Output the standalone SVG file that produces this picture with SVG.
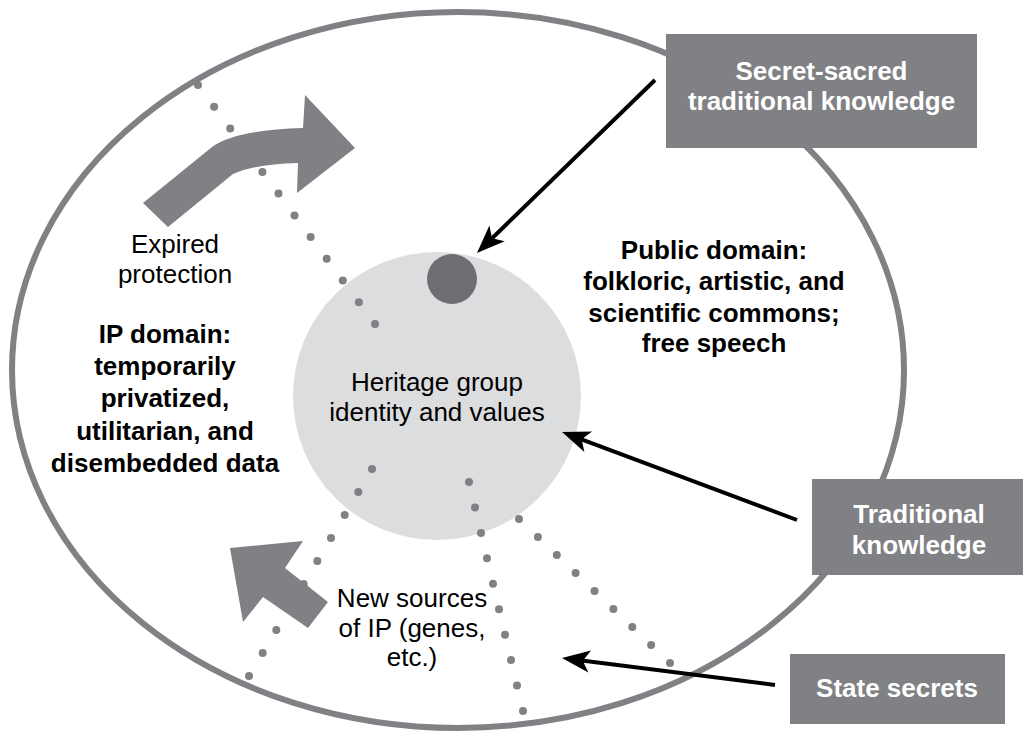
<svg xmlns="http://www.w3.org/2000/svg" width="1023" height="731" viewBox="0 0 1023 731">
<style>
text{font-family:"Liberation Sans",Arial,Helvetica,sans-serif;font-size:26px;text-anchor:middle}
.b{font-weight:bold}
.w{fill:#ffffff;font-weight:bold}
.k{fill:#000000}
.box{fill:#808184}
.dot{fill:#808184}
.garrow{fill:#808184}
.conn{stroke:#000000;stroke-width:4;fill:none;marker-end:url(#ah)}
</style>
<defs>
<marker id="ah" markerUnits="userSpaceOnUse" markerWidth="40" markerHeight="30" refX="22" refY="15" orient="auto">
<path d="M2,4 L30,15 L2,26 L9,15 Z" fill="#000000"/>
</marker>
</defs>
<rect x="0" y="0" width="1023" height="731" fill="#ffffff"/>
<g id="outer-domain">
<ellipse cx="458" cy="370" rx="446" ry="358" fill="none" stroke="#808184" stroke-width="6"/>
</g>
<g id="heritage-group">
<circle cx="437" cy="396" r="144" fill="#dcdddf"/>
<text class="k" x="437" y="391">Heritage group</text>
<text class="k" x="437" y="421">identity and values</text>
</g>
<g id="secret-core">
<circle cx="452" cy="279" r="25" fill="#6d6e71"/>
</g>
<g id="dotted-boundaries">
<circle class="dot" cx="198" cy="85" r="4"/>
<circle class="dot" cx="214.1" cy="106.7" r="4"/>
<circle class="dot" cx="230.2" cy="128.5" r="4"/>
<circle class="dot" cx="246.3" cy="150.2" r="4"/>
<circle class="dot" cx="262.4" cy="171.9" r="4"/>
<circle class="dot" cx="278.5" cy="193.6" r="4"/>
<circle class="dot" cx="294.5" cy="215.4" r="4"/>
<circle class="dot" cx="310.6" cy="237.1" r="4"/>
<circle class="dot" cx="326.7" cy="258.8" r="4"/>
<circle class="dot" cx="342.8" cy="280.6" r="4"/>
<circle class="dot" cx="358.9" cy="302.3" r="4"/>
<circle class="dot" cx="375" cy="324" r="4"/>
<circle class="dot" cx="372" cy="469" r="4"/>
<circle class="dot" cx="358.3" cy="492" r="4"/>
<circle class="dot" cx="344.7" cy="515" r="4"/>
<circle class="dot" cx="331" cy="538" r="4"/>
<circle class="dot" cx="317.3" cy="561" r="4"/>
<circle class="dot" cx="303.7" cy="584" r="4"/>
<circle class="dot" cx="290" cy="607" r="4"/>
<circle class="dot" cx="276.3" cy="630" r="4"/>
<circle class="dot" cx="262.7" cy="653" r="4"/>
<circle class="dot" cx="249" cy="676" r="4"/>
<circle class="dot" cx="469" cy="482" r="4"/>
<circle class="dot" cx="475" cy="507.4" r="4"/>
<circle class="dot" cx="481" cy="532.9" r="4"/>
<circle class="dot" cx="487" cy="558.3" r="4"/>
<circle class="dot" cx="493" cy="583.8" r="4"/>
<circle class="dot" cx="499" cy="609.2" r="4"/>
<circle class="dot" cx="505" cy="634.7" r="4"/>
<circle class="dot" cx="511" cy="660.1" r="4"/>
<circle class="dot" cx="517" cy="685.6" r="4"/>
<circle class="dot" cx="523" cy="711" r="4"/>
<circle class="dot" cx="519" cy="519" r="4"/>
<circle class="dot" cx="537.9" cy="537" r="4"/>
<circle class="dot" cx="556.8" cy="555" r="4"/>
<circle class="dot" cx="575.6" cy="573" r="4"/>
<circle class="dot" cx="594.5" cy="591" r="4"/>
<circle class="dot" cx="613.4" cy="609" r="4"/>
<circle class="dot" cx="632.3" cy="627" r="4"/>
<circle class="dot" cx="651.1" cy="645" r="4"/>
<circle class="dot" cx="670" cy="663" r="4"/>
</g>
<g id="expired-protection">
<path class="garrow" d="M143,203 L212,147 Q235,130 303,128 L305,95 L355,148 L297,193 L298,163 Q255,164 233,174 L168,227 Z"/>
<text class="k" x="175" y="253">Expired</text>
<text class="k" x="175" y="283">protection</text>
</g>
<g id="new-sources">
<path class="garrow" d="M230,548 L303,541 L285,568 L328,602 L308,628 L263,597 L243,622 Z"/>
<text class="k" x="412" y="607">New sources</text>
<text class="k" x="412" y="637">of IP (genes,</text>
<text class="k" x="412" y="666">etc.)</text>
</g>
<g id="ip-domain">
<text class="k b" x="165" y="343">IP domain:</text>
<text class="k b" x="165" y="375">temporarily</text>
<text class="k b" x="165" y="407">privatized,</text>
<text class="k b" x="165" y="440">utilitarian, and</text>
<text class="k b" x="165" y="472">disembedded data</text>
</g>
<g id="public-domain">
<text class="k b" x="714" y="259">Public domain:</text>
<text class="k b" x="714" y="290">folkloric, artistic, and</text>
<text class="k b" x="714" y="322">scientific commons;</text>
<text class="k b" x="714" y="352">free speech</text>
</g>
<g id="secret-sacred">
<rect class="box" x="666" y="34" width="311" height="114"/>
<text class="w" x="821.5" y="80">Secret-sacred</text>
<text class="w" x="821.5" y="110">traditional knowledge</text>
</g>
<g id="traditional-knowledge">
<rect class="box" x="812" y="479" width="215" height="96"/>
<text class="w" x="919" y="523">Traditional</text>
<text class="w" x="919" y="554">knowledge</text>
</g>
<g id="state-secrets">
<rect class="box" x="790" y="654" width="215" height="70"/>
<text class="w" x="897" y="697">State secrets</text>
</g>
<g id="connectors">
<line class="conn" x1="655" y1="80" x2="482.7" y2="247.4"/>
<line class="conn" x1="797" y1="520" x2="569.5" y2="434.8"/>
<line class="conn" x1="775" y1="685" x2="569.9" y2="659"/>
</g>
</svg>
